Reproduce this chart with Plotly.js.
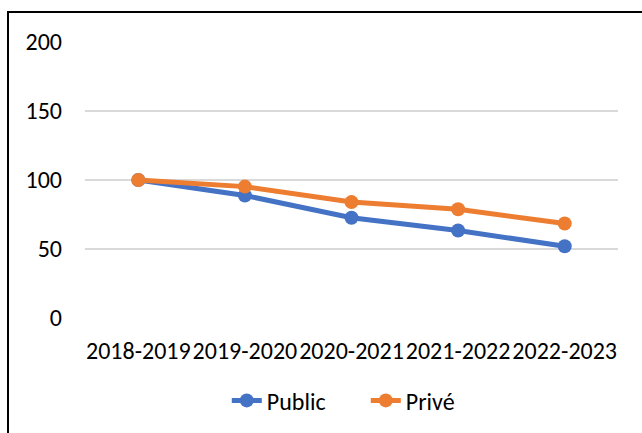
<!DOCTYPE html>
<html>
<head>
<meta charset="utf-8">
<script src="https://cdn.plot.ly/plotly-3.0.1.min.js"></script>
<style>
  html, body { margin: 0; padding: 0; background: #fff; }
  #wrap { position: relative; width: 642px; height: 433px; overflow: hidden; }
  #chart { position: absolute; left: 0; top: 0; width: 642px; height: 433px; }
  #frame { position: absolute; left: 7px; top: 11px; width: 700px; height: 500px;
           border-left: 2.5px solid #000; border-top: 2.5px solid #000; pointer-events: none; }
</style>
</head>
<body>
<div id="wrap">
  <div id="chart"></div>
  <div id="frame"></div>
</div>
<script>
const categories = ["2018-2019", "2019-2020", "2020-2021", "2021-2022", "2022-2023"];
const publicValues = [100, 88.8, 72.6, 63.4, 52];
const priveValues = [100, 95.2, 84, 78.8, 68.5];
const yTicks = [0, 50, 100, 150, 200];

const font = "Carlito, Calibri, 'Liberation Sans', Arial, sans-serif";

const traces = [
  {
    x: categories, y: publicValues, name: "Public", type: "scatter", mode: "lines+markers",
    line: { color: "#4472C4", width: 5 },
    marker: { color: "#4472C4", size: 14 }
  },
  {
    x: categories, y: priveValues, name: "Privé", type: "scatter", mode: "lines+markers",
    line: { color: "#ED7D31", width: 5 },
    marker: { color: "#ED7D31", size: 14 }
  }
];

const layout = {
  width: 642, height: 433,
  margin: { l: 85, r: 24, t: 42, b: 115, pad: 0, autoexpand: false },
  paper_bgcolor: "#fff", plot_bgcolor: "#fff",
  font: { family: font, size: 24, color: "#000" },
  showlegend: true,
  legend: {
    orientation: "h", x: 0.266, xanchor: "left", y: -0.30, yanchor: "middle",
    font: { family: font, size: 24, color: "#000" },
    entrywidth: 94, entrywidthmode: "pixels", tracegroupgap: 0
  },
  xaxis: {
    type: "category", range: [-0.5, 4.5], showgrid: false, zeroline: false, showline: false,
    ticks: "", ticklabelstandoff: 16, tickangle: 0, automargin: false,
    tickfont: { family: font, size: 24, color: "#000" },
    fixedrange: true
  },
  yaxis: {
    range: [0, 200], tickvals: yTicks, ticktext: yTicks.map(String),
    showgrid: true, gridcolor: "#D9D9D9", gridwidth: 1.5, automargin: false,
    zeroline: false, showline: false, ticks: "", ticklabelstandoff: 22,
    tickfont: { family: font, size: 24, color: "#000" },
    fixedrange: true
  }
};

Plotly.newPlot("chart", traces, layout, { staticPlot: true, displayModeBar: false });
</script>
</body>
</html>
